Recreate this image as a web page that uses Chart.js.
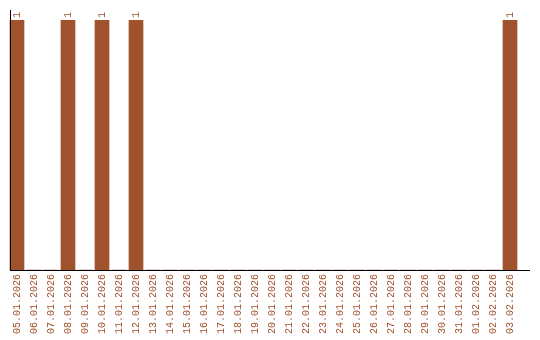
<!DOCTYPE html>
<html>
<head>
<meta charset="utf-8">
<script src="https://cdn.jsdelivr.net/npm/chart.js@4/dist/chart.umd.min.js"></script>
<style>
html,body{margin:0;padding:0;background:#fff;}
#wrap{width:540px;height:340px;}
</style>
</head>
<body>
<div id="wrap"><canvas id="c" width="540" height="340"></canvas></div>
<script>
const categories = ["05.01.2026","06.01.2026","07.01.2026","08.01.2026","09.01.2026","10.01.2026","11.01.2026","12.01.2026","13.01.2026","14.01.2026","15.01.2026","16.01.2026","17.01.2026","18.01.2026","19.01.2026","20.01.2026","21.01.2026","22.01.2026","23.01.2026","24.01.2026","25.01.2026","26.01.2026","27.01.2026","28.01.2026","29.01.2026","30.01.2026","31.01.2026","01.02.2026","02.02.2026","03.02.2026"];
const values = [1,0,0,1,0,1,0,1,0,0,0,0,0,0,0,0,0,0,0,0,0,0,0,0,0,0,0,0,0,1];

const BROWN = '#A0522D';

const axesAndLabels = {
  id: 'axesAndLabels',
  afterDatasetsDraw(chart) {
    const ctx = chart.ctx;
    const y = chart.scales.y;
    ctx.save();
    ctx.strokeStyle = '#000';
    ctx.lineWidth = 1;
    ctx.beginPath();
    ctx.moveTo(10.5, 10);
    ctx.lineTo(10.5, y.getPixelForValue(0));
    ctx.stroke();
    ctx.beginPath();
    ctx.moveTo(10, y.getPixelForValue(0) + 0.5);
    ctx.lineTo(530, y.getPixelForValue(0) + 0.5);
    ctx.stroke();
    const meta = chart.getDatasetMeta(0);
    ctx.fillStyle = BROWN;
    ctx.font = '10px "Liberation Mono"';
    ctx.textAlign = 'left';
    ctx.textBaseline = 'middle';
    meta.data.forEach((bar, i) => {
      const v = values[i];
      if (!v) return;
      ctx.save();
      ctx.translate(bar.x, bar.y - 2);
      ctx.rotate(-Math.PI / 2);
      ctx.fillText(String(v), 0, 0);
      ctx.restore();
    });
    ctx.restore();
  }
};

new Chart(document.getElementById('c'), {
  type: 'bar',
  data: {
    labels: categories,
    datasets: [{
      data: values,
      backgroundColor: BROWN,
      borderWidth: 0,
      barThickness: 14
    }]
  },
  options: {
    responsive: false,
    animation: false,
    layout: { padding: { left: 8.5, right: 21.5, top: 20, bottom: 0 } },
    plugins: { legend: { display: false }, tooltip: { enabled: false } },
    scales: {
      x: {
        grid: { display: false, drawTicks: false },
        border: { display: false },
        ticks: {
          autoSkip: false,
          maxRotation: 90,
          minRotation: 90,
          padding: 4,
          color: BROWN,
          font: { family: 'Liberation Mono', size: 10 }
        },
        afterFit(scale) { scale.height = 70; }
      },
      y: {
        display: false,
        min: 0,
        max: 1
      }
    }
  },
  plugins: [axesAndLabels]
});
</script>
</body>
</html>
